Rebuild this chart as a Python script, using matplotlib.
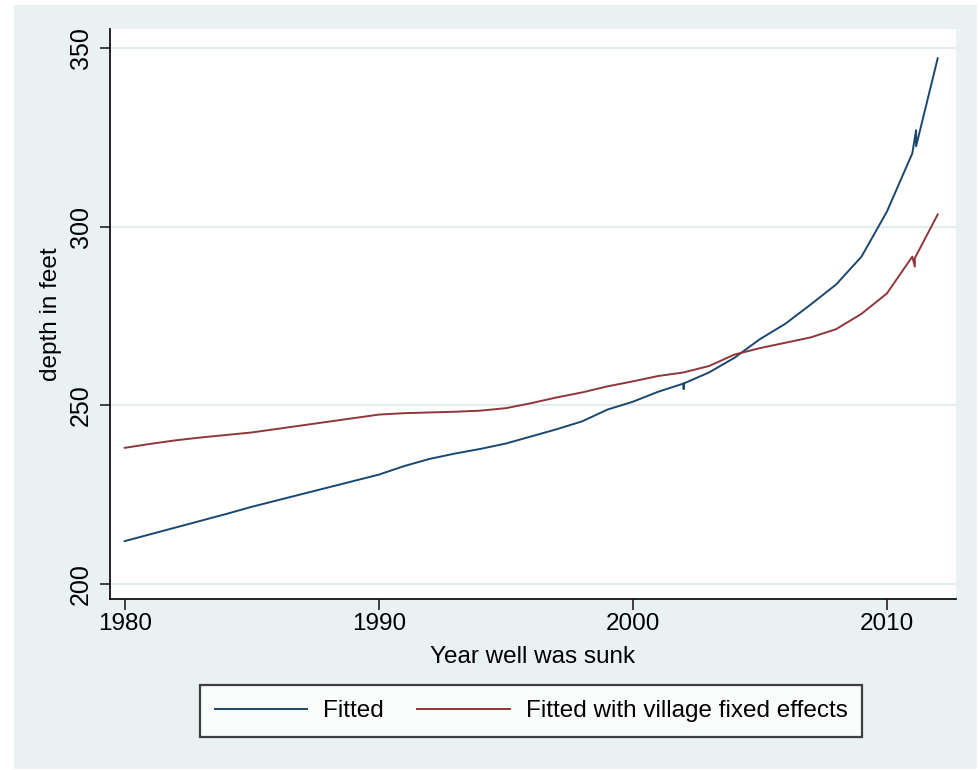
import matplotlib
matplotlib.use("Agg")
import matplotlib.pyplot as plt
from matplotlib.patches import Rectangle

plt.rcParams['font.family'] = ['Liberation Sans', 'DejaVu Sans']

# Fitted well depth (feet) by year the well was sunk
years_fit = [1980, 1981, 1982, 1983, 1984, 1985, 1986, 1987, 1988, 1989,
             1990, 1991, 1992, 1993, 1994, 1995, 1996, 1997, 1998, 1999,
             2000, 2001, 2002, 2002, 2002, 2003, 2004, 2005, 2006, 2007,
             2008, 2009, 2010, 2011, 2011.15, 2011.15, 2012]
depth_fit = [212.0, 213.9, 215.8, 217.7, 219.6, 221.6, 223.4, 225.2, 227.0, 228.8,
             230.6, 233.0, 235.0, 236.5, 237.8, 239.3, 241.3, 243.3, 245.5, 248.8,
             251.0, 253.8, 256.1, 254.6, 256.1, 259.2, 263.3, 268.5, 272.8, 278.2,
             283.8, 291.6, 304.2, 320.5, 327.0, 322.5, 347.1]

# Fitted depth with village fixed effects
years_fe = [1980, 1981, 1982, 1983, 1984, 1985, 1986, 1987, 1988, 1989,
            1990, 1991, 1992, 1993, 1994, 1995, 1996, 1997, 1998, 1999,
            2000, 2001, 2002, 2003, 2004, 2005, 2006, 2007, 2008, 2009,
            2010, 2011, 2011.1, 2011.1, 2012]
depth_fe = [238.1, 239.2, 240.2, 241.0, 241.7, 242.4, 243.4, 244.4, 245.4, 246.4,
            247.4, 247.8, 248.0, 248.2, 248.5, 249.2, 250.6, 252.2, 253.6, 255.3,
            256.7, 258.2, 259.2, 261.0, 264.2, 266.0, 267.5, 269.0, 271.3, 275.6,
            281.3, 291.6, 288.8, 291.2, 303.4]

x_ticks = [1980, 1990, 2000, 2010]
y_ticks = [200, 250, 300, 350]
series_labels = ["Fitted", "Fitted with village fixed effects"]
x_title = "Year well was sunk"
y_title = "depth in feet"

W, H = 980, 770
fig = plt.figure(figsize=(W / 100, H / 100), dpi=100, facecolor='white')

# light graph-region background
fig.patches.append(Rectangle((14 / W, 1 - 769 / H), (977 - 14) / W, (769 - 5) / H,
                             transform=fig.transFigure, facecolor='#EAF1F3',
                             edgecolor='none', zorder=-10))

ax = fig.add_axes([110 / W, 1 - 599 / H, 846 / W, 570 / H])
ax.set_facecolor('white')

ax.plot(years_fit, depth_fit, color='#1A476F', lw=1.4, label=series_labels[0], zorder=3)
ax.plot(years_fe, depth_fe, color='#90353B', lw=1.4, label=series_labels[1], zorder=3)

ax.set_xlim(1979.42, 2012.72)
ax.set_ylim(195.8, 355.3)
ax.set_xticks(x_ticks)
ax.set_yticks(y_ticks)

ax.grid(axis='y', color='#E2ECEF', lw=1.5, zorder=0)
ax.set_axisbelow(True)

for s in ['top', 'right']:
    ax.spines[s].set_visible(False)
for s in ['left', 'bottom']:
    ax.spines[s].set_color('#111111')
    ax.spines[s].set_linewidth(1.3)

ax.tick_params(axis='x', length=8, width=1.1, color='#111111', labelsize=17.5, pad=2)
ax.tick_params(axis='y', length=7.2, width=1.1, color='#111111', labelsize=18,
               pad=5, labelrotation=90)
for lab in ax.get_yticklabels():
    lab.set_va('center')

ax.set_xlabel(x_title, fontsize=17.5, va='baseline')
ax.xaxis.set_label_coords(0.5, (599 - 663) / 570)
ax.set_ylabel(y_title, fontsize=17.5, va='baseline')
ax.yaxis.set_label_coords((57 - 110) / 846, 0.5)

leg = fig.legend(loc='center', bbox_to_anchor=(531 / W, 1 - 711 / H), ncol=2,
                 fontsize=17.5, frameon=True, fancybox=False, handlelength=3.8,
                 handletextpad=0.65, columnspacing=1.4, borderpad=0.6)
leg.get_frame().set_edgecolor('#111111')
leg.get_frame().set_linewidth(1.6)
leg.get_frame().set_facecolor('white')

fig.savefig('out.png', dpi=100, facecolor='white')
